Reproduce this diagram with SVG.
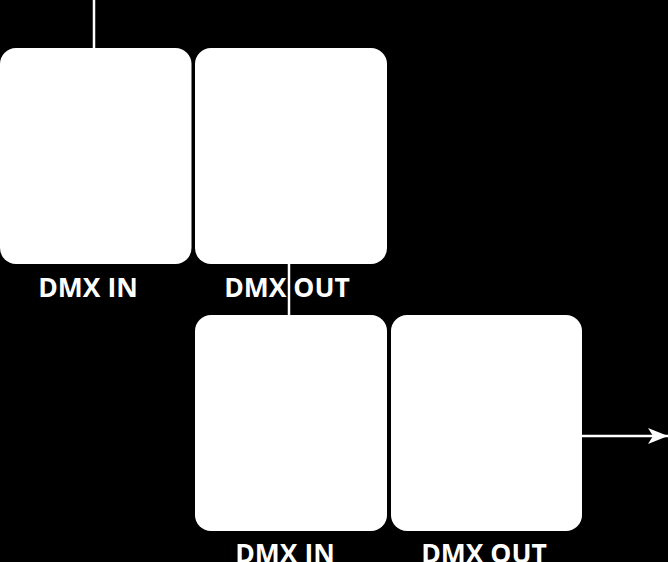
<svg xmlns="http://www.w3.org/2000/svg" width="668" height="562" viewBox="0 0 668 562">
<style>
.box{fill:#fff}
.lbl{font-family:"Open Sans","Liberation Sans",sans-serif;font-weight:700;font-size:26.5px;fill:#fff;text-anchor:middle}
.wire{stroke:#fff;stroke-width:2.5;fill:none}
</style>
<defs>
<marker id="arr" markerWidth="20" markerHeight="16" refX="20" refY="8" orient="auto" markerUnits="userSpaceOnUse" viewBox="0 0 20 16">
<path d="M0,0 L20,8 L0,16 L5,8 Z" fill="#fff"/>
</marker>
</defs>
<rect width="668" height="562" fill="#000"/>
<g id="connectors">
<line class="wire" x1="94" y1="0" x2="94" y2="49"/>
<line class="wire" x1="289" y1="263" x2="289" y2="316"/>
<line class="wire" x1="581" y1="436" x2="668" y2="436" marker-end="url(#arr)"/>
</g>
<g id="dev1-in"><rect class="box" x="0" y="48" width="191.5" height="216" rx="16"/><text class="lbl" x="88" y="297">DMX IN</text></g>
<g id="dev1-out"><rect class="box" x="195" y="48" width="192" height="216" rx="16"/><text class="lbl" x="287" y="297">DMX OUT</text></g>
<g id="dev2-in"><rect class="box" x="195" y="315" width="192" height="216" rx="16"/><text class="lbl" x="285" y="563">DMX IN</text></g>
<g id="dev2-out"><rect class="box" x="391" y="315" width="191" height="216" rx="16"/><text class="lbl" x="484" y="563">DMX OUT</text></g>
</svg>
